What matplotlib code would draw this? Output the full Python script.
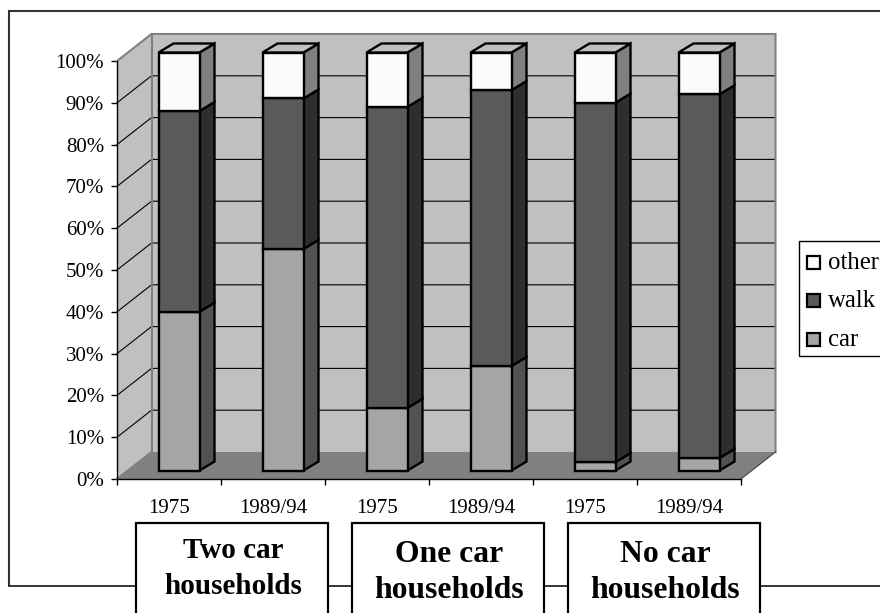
import matplotlib
matplotlib.use("Agg")
import matplotlib.pyplot as plt
from matplotlib.patches import Polygon, Rectangle

plt.rcParams['font.family'] = ['Liberation Serif', 'DejaVu Serif']

# Share of trips by mode, percent
periods = ["1975", "1989/94", "1975", "1989/94", "1975", "1989/94"]
car = [38, 53, 15, 25, 2, 3]
walk = [48, 36, 72, 66, 86, 87]
other = [14, 11, 13, 9, 12, 10]
pct_ticks = list(range(0, 101, 10))
groups = [("Two car\nhouseholds", 232, 21.0), ("One car\nhouseholds", 448, 22.8), ("No car\nhouseholds", 664, 22.8)]
legend_items = [("other", "#fafafa"), ("walk", "#5a5a5a"), ("car", "#a5a5a5")]

W, H = 880, 613
L, R, T, B = 117, 741, 61, 479
fig = plt.figure(figsize=(W / 100, H / 100), dpi=100, facecolor="white")

# Page layer in pixel units: outer frame, group boxes, legend
page = fig.add_axes([0, 0, 1, 1], zorder=0)
page.set_xlim(0, W)
page.set_ylim(H, 0)
page.axis("off")
page.plot([W, 8.5, 8.5], [11, 11, 586], color="#333333", lw=1.5, solid_capstyle="butt", solid_joinstyle="miter", zorder=0.5)
page.plot([8.5, W], [586, 586], color="black", lw=1.1, zorder=0.5)
for label, cx, fs in groups:
    page.add_patch(Rectangle((cx - 96, 522.5), 192, 120, fc="white", ec="black", lw=1.6, zorder=1))
    first, second = label.split("\n")
    base = 558 if fs < 22 else 562
    page.text(cx + 1, base, first, ha="center", va="baseline", fontsize=fs, fontweight="bold", zorder=2)
    page.text(cx + 1, base + 35.5, second, ha="center", va="baseline", fontsize=fs, fontweight="bold", zorder=2)

page.add_patch(Rectangle((798.5, 241), 120, 115, fc="white", ec="black", lw=1))
for (name, colour), y in zip(legend_items, (262, 300, 339)):
    page.add_patch(Rectangle((807, y - 6.5), 13, 13, fc=colour, ec="black", lw=1.6))
    page.text(828, y + 7, name, ha="left", va="baseline", fontsize=17.8)

# Chart layer: x in category slots, y in percent, front plane of the box
ax = fig.add_axes([L / W, 1 - B / H, (R - L) / W, (B - T) / H], zorder=1)
ax.patch.set_alpha(0)
ax.set_xlim(0, len(periods))
ax.set_ylim(0, 100)
px_x = len(periods) / (R - L)
px_y = 100 / (B - T)

wall_dx, wall_dy = 34.5 * px_x, 27 * px_y
shift_dx, shift_dy = 10 * px_x, 8.5 * px_y
bar_dx, bar_dy = 15 * px_x, 9 * px_y
bar_w = 41 * px_x
xmax = len(periods)

def poly(pts, **kw):
    kw.setdefault("clip_on", False)
    ax.add_patch(Polygon(pts, closed=True, **kw))

wall = dict(fc="#c0c0c0", ec="none", zorder=1)
poly([(0, 0), (0, 100), (wall_dx, 100 + wall_dy), (wall_dx, wall_dy)], **wall)
poly([(wall_dx, wall_dy), (wall_dx, 100 + wall_dy), (xmax + wall_dx, 100 + wall_dy), (xmax + wall_dx, wall_dy)], **wall)
poly([(0, 0), (wall_dx, wall_dy), (xmax + wall_dx, wall_dy), (xmax, 0)], fc="#808080", ec="none", zorder=1)

for v in pct_ticks[1:-1]:
    ax.plot([0, wall_dx, xmax + wall_dx], [v, v + wall_dy, v + wall_dy], color="black", lw=0.8, clip_on=False, zorder=2)

edge = dict(color="#808080", lw=1.5, clip_on=False, zorder=2, solid_joinstyle="miter")
ax.plot([0, wall_dx, xmax + wall_dx, xmax + wall_dx], [100, 100 + wall_dy, 100 + wall_dy, wall_dy], **edge)
ax.plot([wall_dx, wall_dx], [100 + wall_dy, wall_dy], **edge)
ax.plot([0, wall_dx], [0, wall_dy], **edge)
ax.plot([xmax, xmax + wall_dx], [0, wall_dy], color="#404040", lw=0.8, clip_on=False, zorder=2)

# Stacked 3-D columns
segments = [
    (car, "#a5a5a5", "#525252", None),
    (walk, "#5a5a5a", "#2e2e2e", None),
    (other, "#fafafa", "#808080", "#c0c0c0"),
]
outline = dict(ec="black", lw=1.7, joinstyle="miter", zorder=3)
for i in range(len(periods)):
    x0 = i + 0.5 + shift_dx - bar_w / 2
    x1 = x0 + bar_w
    floor = shift_dy
    for values, front, side, top in segments:
        y0, y1 = floor, floor + values[i]
        poly([(x1, y0), (x1 + bar_dx, y0 + bar_dy), (x1 + bar_dx, y1 + bar_dy), (x1, y1)], fc=side, **outline)
        poly([(x0, y0), (x1, y0), (x1, y1), (x0, y1)], fc=front, **outline)
        if top:
            poly([(x0, y1), (x1, y1), (x1 + bar_dx, y1 + bar_dy), (x0 + bar_dx, y1 + bar_dy)], fc=top, **outline)
        floor = y1

# Axes, ticks and labels
for side in ("top", "right"):
    ax.spines[side].set_visible(False)
for side in ("left", "bottom"):
    ax.spines[side].set_linewidth(1.0)
    ax.spines[side].set_zorder(2.5)
ax.set_yticks(pct_ticks)
ax.set_yticklabels([f"{v}%" for v in pct_ticks], fontsize=15)
ax.set_xticks(range(len(periods) + 1))
ax.set_xticklabels([])
ax.tick_params(axis="both", length=4.3, width=1.0, color="black")
ax.tick_params(axis="y", pad=5)
for i, label in enumerate(periods):
    ax.text(i + 0.5, -34 * px_y, label, ha="center", va="baseline", fontsize=15, clip_on=False)

fig.savefig("out.png", dpi=100)
